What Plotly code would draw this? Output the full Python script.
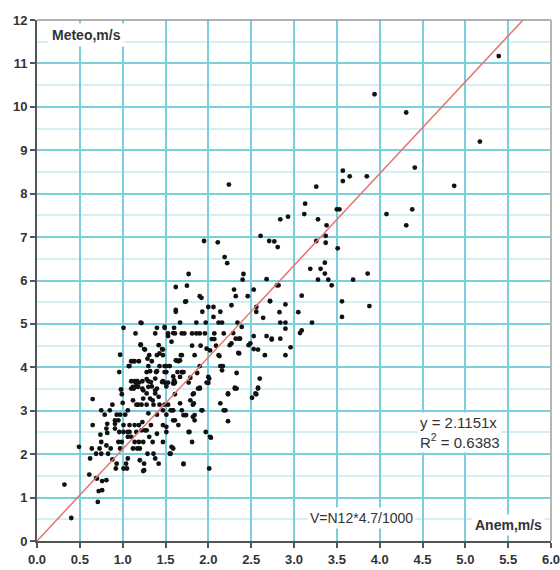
import plotly.graph_objects as go

# Anemometer speed (x, m/s) and Meteo station speed (y, m/s)
anem = [
    5.39, 3.94, 4.31, 5.17, 4.41, 4.87, 3.26, 3.57, 3.57, 3.65,
    3.85, 2.24, 3.13, 3.12, 2.93, 2.84, 3.50, 3.53, 4.08, 4.38,
    4.31, 3.28, 3.38, 3.37, 3.26, 3.37, 3.51, 3.36, 3.19, 3.31,
    3.36, 3.28, 3.40, 3.44, 3.69, 3.86, 3.09, 2.90, 3.56, 3.88,
    3.05, 3.56, 2.84, 2.90, 3.21, 2.90, 3.09, 3.07, 2.96, 2.90,
    2.72, 2.83, 2.74,
    1.95, 2.11, 2.61, 2.71, 2.77, 2.81, 2.19, 2.22, 1.77, 2.41,
    2.40, 2.68, 1.75, 1.62, 2.30, 2.53, 2.80, 2.82, 1.90, 1.92,
    2.46, 2.32, 2.27, 2.56, 1.74, 1.62, 1.62, 2.06, 2.00, 2.14,
    2.06, 1.67, 1.86, 1.97, 2.12, 2.16, 2.34, 1.21, 1.01, 1.40,
    1.49, 1.60, 2.64, 2.56, 2.39, 2.53, 2.68, 2.84, 2.32, 2.36,
    2.25, 2.47, 2.58, 2.66, 2.36, 2.18, 2.07, 1.90, 1.96, 1.86,
    1.69, 1.72, 1.81, 1.61, 2.04, 2.07, 2.09, 1.81, 1.91, 2.12,
    1.84, 1.69, 2.02, 2.14, 2.17, 2.16, 2.33, 1.90, 1.87, 2.00,
    1.98, 1.88, 2.60, 2.58, 2.33, 1.73, 1.93, 2.72, 1.59, 2.29,
    2.37, 2.27, 2.49, 2.53, 2.35, 2.74, 1.63, 1.67, 1.98, 2.13,
    1.71, 1.69, 1.60, 1.79, 2.01, 1.90, 2.31, 2.55, 1.83, 2.23,
    1.79, 2.14,
    0.97, 0.96, 1.07, 1.10, 1.14, 1.19, 1.15, 1.22, 1.21, 1.25,
    1.31, 1.38, 1.34, 1.40, 1.42, 1.46, 1.47, 1.43, 1.49, 1.51,
    1.55, 1.53, 1.57, 1.62, 1.65, 1.68, 1.64, 1.70, 1.28, 1.39,
    1.51, 1.15, 1.19, 1.28, 1.38, 1.53, 1.59, 1.61, 1.49, 1.67,
    1.77, 1.10, 1.13, 1.23, 1.40, 1.21, 1.26, 1.12, 1.08, 1.00,
    0.98, 1.29, 1.30, 1.32, 1.40, 1.43, 1.49, 1.53, 1.47,
    1.10, 1.14, 1.17, 1.23, 1.16, 1.24, 1.30, 1.34, 1.28, 1.38,
    1.42, 1.35, 1.12, 1.18, 1.47, 1.51, 1.49, 1.59,
    0.32, 0.40, 0.49, 0.61, 0.65, 0.65, 0.64, 0.62, 0.69, 0.70,
    0.71, 0.72, 0.76, 0.81, 0.74, 0.75, 0.75, 0.75, 0.73, 0.79,
    0.81, 0.81, 0.82, 0.82, 0.83, 0.85, 0.86, 0.88, 0.88, 0.91,
    0.91, 0.91, 0.92, 0.93, 0.93, 0.95, 0.95, 0.96, 0.97, 0.97,
    0.99, 0.99, 1.01, 1.01, 1.01, 1.03, 1.04, 1.05, 1.06, 1.06,
    1.06, 1.06, 1.08, 1.08, 1.10, 1.12, 1.12, 1.14, 1.14, 1.16,
    1.16, 1.17, 1.18, 1.19, 1.19, 1.20, 1.20, 1.22, 1.22, 1.23,
    1.24, 1.24, 1.25, 1.25, 1.26, 1.28, 1.28, 1.29, 1.30, 1.30,
    1.31, 1.32, 1.33, 1.33, 1.35, 1.36, 1.36, 1.38, 1.38, 1.40,
    1.40, 1.42, 1.43, 1.46, 1.47, 1.47, 1.49, 1.51, 1.51, 1.53,
    1.55, 1.57, 1.58, 1.59, 1.60, 1.61, 1.65, 1.67, 1.69, 1.71,
    1.73, 1.77, 1.81, 1.82, 1.82, 1.82, 1.84, 1.84, 1.90, 1.92,
    1.97, 2.00, 2.03, 2.01, 2.18, 2.23, 2.23, 2.31, 2.51, 2.56,
    2.58,
    1.83, 2.20, 1.93, 1.56, 1.59, 1.71, 1.74, 1.61, 1.51, 1.78,
    2.02, 1.47, 1.59, 1.56, 1.71, 1.24, 0.69, 0.76,
]
meteo = [
    11.17, 10.29, 9.87, 9.20, 8.60, 8.18, 8.16, 8.53, 8.29, 8.40,
    8.40, 8.21, 7.77, 7.53, 7.47, 7.41, 7.64, 7.64, 7.53, 7.64,
    7.27, 7.41, 7.27, 7.03, 6.91, 6.87, 6.74, 6.41, 6.27, 6.27,
    6.16, 6.02, 6.02, 5.89, 6.02, 6.16, 5.65, 5.45, 5.52, 5.41,
    5.27, 5.16, 5.03, 5.03, 5.03, 4.89, 4.85, 4.79, 4.46, 4.28,
    5.52, 5.27, 4.64,
    6.91, 6.88, 7.03, 6.91, 6.90, 6.77, 6.54, 6.40, 6.15, 6.15,
    6.02, 6.03, 5.88, 5.85, 5.79, 5.79, 5.89, 5.89, 5.64, 5.60,
    5.64, 5.64, 5.43, 5.39, 5.52, 5.32, 5.28, 5.39, 5.39, 5.28,
    5.16, 5.03, 5.03, 5.03, 5.03, 5.03, 5.03, 5.03, 4.91, 4.91,
    4.91, 4.91, 5.14, 5.28, 4.93, 4.72, 4.72, 4.66, 4.66, 4.66,
    4.51, 4.51, 4.41, 4.28, 4.32, 4.78, 4.78, 4.78, 4.78, 4.78,
    4.78, 4.78, 4.78, 4.78, 4.65, 4.65, 4.50, 4.50, 4.50, 4.28,
    4.28, 4.28, 4.39, 4.03, 4.03, 3.93, 3.87, 4.03, 3.87, 3.78,
    3.65, 3.51, 3.74, 3.51, 3.51, 5.51, 5.28, 5.53, 4.79, 4.79,
    4.66, 4.55, 4.55, 4.42, 4.33, 4.66, 4.16, 4.16, 4.43, 4.26,
    3.89, 3.89, 3.70, 3.76, 3.74, 3.51, 3.51, 3.40, 3.40, 3.40,
    3.24, 3.17,
    4.29, 3.89, 4.03, 4.14, 4.14, 4.14, 4.78, 5.02, 4.51, 4.42,
    4.28, 4.78, 4.14, 4.28, 4.51, 4.42, 4.28, 4.03, 4.03, 4.03,
    4.03, 4.72, 4.59, 4.16, 4.14, 4.28, 3.89, 3.89, 3.89, 3.89,
    3.89, 3.65, 3.65, 3.73, 3.74, 3.65, 3.63, 3.65, 3.65, 3.78,
    3.65, 3.51, 3.51, 3.51, 3.51, 4.53, 4.41, 4.14, 4.03, 3.18,
    3.49, 4.20, 4.03, 3.91, 3.91, 4.32, 4.93, 4.78, 4.41,
    3.68, 3.68, 3.68, 3.68, 3.56, 3.47, 3.68, 3.56, 3.40, 3.47,
    3.32, 3.24, 3.24, 3.14, 3.68, 3.56, 3.89, 3.79,
    1.30, 0.53, 2.17, 1.53, 3.27, 2.67, 2.13, 1.90, 2.01, 1.44,
    0.90, 1.15, 1.17, 1.40, 2.45, 3.01, 2.28, 2.01, 2.13, 2.91,
    2.59, 2.20, 2.70, 2.49, 2.01, 3.01, 2.13, 3.14, 1.88, 2.78,
    2.70, 2.59, 1.67, 1.78, 2.91, 2.78, 2.28, 2.51, 2.13, 2.91,
    3.38, 2.28, 2.67, 2.51, 1.67, 2.91, 1.78, 1.67, 2.51, 3.01,
    2.40, 1.90, 2.67, 2.51, 2.40, 2.13, 3.55, 2.67, 2.28, 3.14,
    2.51, 2.13, 3.55, 2.67, 2.28, 2.13, 1.86, 3.14, 2.55, 2.74,
    3.28, 2.28, 1.63, 1.78, 2.55, 3.14, 2.55, 2.01, 3.55, 2.94,
    2.40, 3.28, 3.66, 2.67, 2.28, 2.01, 3.14, 1.90, 3.40, 2.91,
    2.47, 1.78, 3.14, 3.66, 3.01, 2.67, 3.14, 2.51, 2.91, 3.14,
    2.01, 2.17, 3.01, 2.78, 3.63, 3.38, 2.67, 3.17, 3.01, 1.77,
    2.90, 2.51, 2.28, 2.86, 3.38, 3.14, 2.90, 2.78, 3.53, 3.01,
    2.51, 3.64, 2.38, 1.67, 3.01, 3.38, 2.76, 3.53, 3.30, 3.38,
    3.53,
    3.17, 3.01, 3.01, 3.01, 3.01, 2.90, 2.90, 2.78, 2.63, 2.51,
    2.40, 2.28, 2.13, 2.01, 1.78, 1.61, 1.45, 1.38,
]

slope = 2.1151
r_squared = 0.6383
x_ticks = [0.0, 0.5, 1.0, 1.5, 2.0, 2.5, 3.0, 3.5, 4.0, 4.5, 5.0, 5.5, 6.0]
y_ticks = list(range(0, 13))

FONT = "Liberation Sans, Arial, sans-serif"
GRID = "#7ACFDC"
MINOR = "#D3F0F4"
TXT = "#333333"
TICKFONT = dict(family=FONT, size=13, color=TXT, weight="bold")

fig = go.Figure()
fig.add_trace(go.Scatter(
    x=anem, y=meteo, mode="markers",
    marker=dict(size=4.8, color="#111111"),
    showlegend=False, hoverinfo="skip", cliponaxis=False,
))
x_end = 12 / slope
fig.add_trace(go.Scatter(
    x=[0, x_end], y=[0, slope * x_end], mode="lines",
    line=dict(color="#E8736E", width=1.5),
    showlegend=False, hoverinfo="skip",
))

fig.update_xaxes(
    range=[0, 6], tickvals=x_ticks, ticktext=[f"{v:.1f}" for v in x_ticks],
    showgrid=True, gridcolor=GRID, gridwidth=2,
    ticks="outside", ticklen=5, tickwidth=1.5, tickcolor="#555555",
    showline=True, linecolor="#555555", linewidth=2, zeroline=False,
    tickfont=TICKFONT, automargin=False, ticklabeloverflow="allow",
)
fig.update_yaxes(
    range=[0, 12], tickvals=y_ticks,
    showgrid=True, gridcolor=GRID, gridwidth=2,
    minor=dict(dtick=0.5, showgrid=True, gridcolor=MINOR, gridwidth=2),
    ticks="outside", ticklen=5, tickwidth=1.5, tickcolor="#555555",
    showline=True, linecolor="#555555", linewidth=2, zeroline=False,
    tickfont=TICKFONT, automargin=False, ticklabeloverflow="allow",
)

# top/right frame
fig.add_shape(type="line", xref="paper", yref="paper", x0=0, x1=1, y0=1, y1=1,
              line=dict(color="#999999", width=1.5), layer="above")
fig.add_shape(type="line", xref="paper", yref="paper", x0=1, x1=1, y0=0, y1=1,
              line=dict(color="#B5B5B5", width=2), layer="above")

ann_font = dict(family=FONT, size=14, color=TXT, weight="bold")
fig.add_annotation(x=0.58, y=11.65, text="Meteo,m/s", showarrow=False,
                   font=ann_font, bgcolor="white", borderpad=3)
fig.add_annotation(x=5.5, y=0.36, text="Anem,m/s", showarrow=False,
                   font=ann_font, bgcolor="white", borderpad=2)
fig.add_annotation(x=3.79, y=0.52, text="V=N12*4.7/1000", showarrow=False,
                   font=dict(family=FONT, size=14, color=TXT), bgcolor="white", borderpad=2)
fig.add_annotation(x=4.45, y=2.5, xanchor="left", align="left",
                   text=f"y = {slope}x<br>R<sup>2</sup> = {r_squared}",
                   showarrow=False, font=dict(family=FONT, size=15, color=TXT),
                   bgcolor="white", borderpad=1)

fig.update_layout(
    width=560, height=570,
    margin=dict(l=37, r=9, t=20, b=29),
    paper_bgcolor="white", plot_bgcolor="white",
)

# remove the default page margin so the 560x570 figure fills the window exactly
fig.write_html(
    "out.html",
    config={"displayModeBar": False},
    post_script="document.body.style.margin='0';document.body.style.overflow='hidden';",
)
